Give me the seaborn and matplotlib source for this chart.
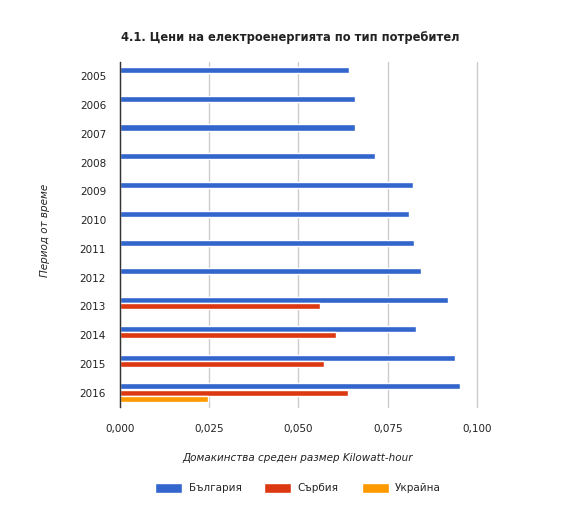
import numpy as np
import pandas as pd
import seaborn as sns
import matplotlib.pyplot as plt

# values
years = ["2005", "2006", "2007", "2008", "2009", "2010",
         "2011", "2012", "2013", "2014", "2015", "2016"]
bulgaria = [0.0642, 0.0659, 0.0659, 0.0714, 0.0821, 0.0809,
            0.0823, 0.0843, 0.0919, 0.0829, 0.0939, 0.0953]
serbia_years = ["2013", "2014", "2015", "2016"]
serbia = [0.0561, 0.0605, 0.0572, 0.0638]
ukraine_years = ["2016"]
ukraine = [0.0246]

countries = ["България", "Сърбия", "Украйна"]
palette = ["#3366CC", "#DC3912", "#FF9900"]

df = pd.concat([
    pd.DataFrame({"year": years, "value": bulgaria, "country": countries[0]}),
    pd.DataFrame({"year": serbia_years, "value": serbia, "country": countries[1]}),
    pd.DataFrame({"year": ukraine_years, "value": ukraine, "country": countries[2]}),
])

sns.set_style("white")
plt.rcParams["font.family"] = ["DejaVu Sans"]

fig = plt.figure(figsize=(5.63, 5.23), dpi=100)
ax = fig.add_axes([0.2131, 0.2218, 0.6341, 0.6597])

sns.barplot(data=df, y="year", x="value", hue="country", order=years,
            hue_order=countries, palette=palette, orient="h",
            width=0.66, gap=0.04, ax=ax, saturation=1)

ax.set_xlim(0, 0.1)
ax.set_xticks([0, 0.025, 0.05, 0.075, 0.1])
ax.set_xticklabels(["0,000", "0,025", "0,050", "0,075", "0,100"])
ax.grid(axis="x", color="#cccccc", linewidth=1, clip_on=False)
for gl in ax.get_xgridlines():
    gl.set_clip_on(False)
ax.set_axisbelow(True)
for s in ["top", "right", "bottom"]:
    ax.spines[s].set_visible(False)
ax.spines["left"].set_color("#333333")
ax.spines["left"].set_linewidth(1)
ax.tick_params(axis="both", length=0, labelsize=7.5, labelcolor="#222222")
ax.tick_params(axis="y", pad=10)
ax.tick_params(axis="x", pad=12)
ax.set_ylabel("")
ax.set_xlabel("")

fig.text(45 / 563, 1 - 230 / 523, "Период от време", rotation=90,
         style="italic", fontsize=7.5, color="#222222", ha="center", va="center")
fig.text(298 / 563, 1 - 458 / 523, "Домакинства среден размер Kilowatt-hour",
         style="italic", fontsize=7.5, color="#222222", ha="center", va="center")
fig.text(290 / 563, 1 - 37 / 523, "4.1. Цени на електроенергията по тип потребител",
         fontweight="bold", fontsize=8.3, color="#222222", ha="center", va="center")

handles, labels = ax.get_legend_handles_labels()
ax.legend_.remove()
fig.legend(handles, labels, loc="center", bbox_to_anchor=(298 / 563, 1 - 488 / 523),
           ncol=3, frameon=False, fontsize=7.5, handlelength=2.6, handleheight=1.1,
           columnspacing=2.2, handletextpad=0.6)

fig.savefig("out.png", dpi=100, facecolor="white")
